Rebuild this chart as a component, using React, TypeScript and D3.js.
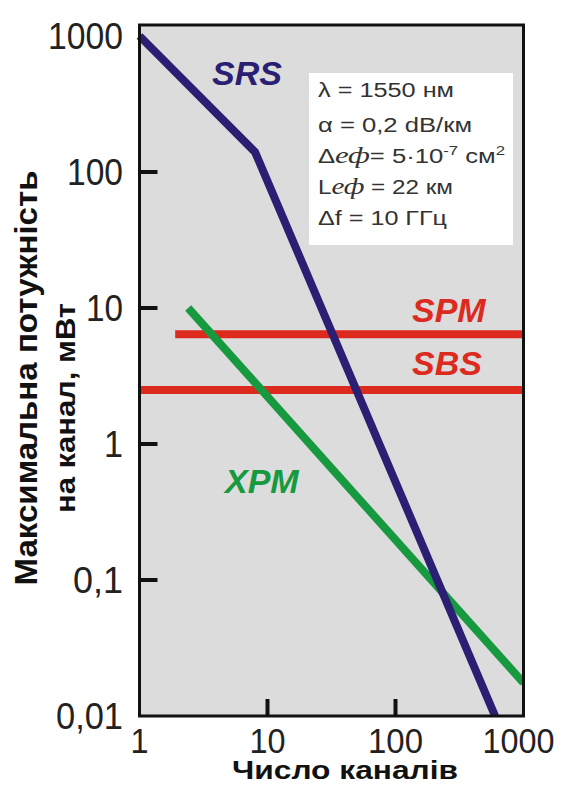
// @ts-nocheck
import { scaleLog, line } from "d3";
import React from "react";

// series (x = number of channels, y = max power per channel, mW)
const srs = [
  [1, 1000],
  [8, 140],
  [600, 0.01],
];
const xpm = [
  [2.4, 10],
  [1000, 0.0175],
];
const spm = [
  [1.9, 6.4],
  [1000, 6.4],
];
const sbs = [
  [1, 2.5],
  [1000, 2.5],
];

const xTicks = [1, 10, 100, 1000];
const xTickLabels = ["1", "10", "100", "1000"];
const yTicks = [1000, 100, 10, 1, 0.1, 0.01];
const yTickLabels = ["1000", "100", "10", "1", "0,1", "0,01"];

const legendLines = ["λ = 1550 нм", "α = 0,2 dB/км", "Δеф", "Lеф = 22 км", "Δf = 10 ГГц"];

const NAVY = "#2a1f73";
const GREEN = "#16993f";
const RED = "#dc2a1f";
const FONT = "'Liberation Sans', Arial, sans-serif";

const App = () => {
  const x = scaleLog().domain([1, 1000]).range([139.5, 523.5]);
  const y = scaleLog().domain([0.01, 1000]).range([716, 36]);
  const path = line()
    .x((d) => x(d[0]))
    .y((d) => y(d[1]));

  const left = x(1);
  const right = x(1000);
  const top = 25;
  const bottom = y(0.01);

  return (
    <svg width={562} height={785} style={{ position: "absolute", left: 0, top: 0 }}>
      <rect x={0} y={0} width={562} height={785} fill="white" />
      <rect x={left} y={top} width={right - left} height={bottom - top} fill="#dcdcdc" />

      {/* ticks */}
      {yTicks.slice(1, 5).map((t) => (
        <line key={"yt" + t} x1={left} x2={left + 18} y1={y(t)} y2={y(t)} stroke="#111" strokeWidth={4} />
      ))}
      {xTicks.slice(1, 3).map((t) => (
        <line key={"xt" + t} x1={x(t)} x2={x(t)} y1={bottom} y2={bottom - 17} stroke="#111" strokeWidth={4} />
      ))}

      <clipPath id="plot">
        <rect x={left - 4} y={top} width={right - left + 4} height={bottom - top} />
      </clipPath>
      <g clipPath="url(#plot)" fill="none" strokeWidth={8}>
        <path d={path(spm)} stroke={RED} />
        <path d={path(sbs)} stroke={RED} />
        <path d={path(xpm)} stroke={GREEN} />
        <path d={path(srs)} stroke={NAVY} strokeLinejoin="round" />
      </g>

      <rect x={left} y={top} width={right - left} height={bottom - top} fill="none" stroke="#111" strokeWidth={3} />

      {/* tick labels */}
      {yTicks.map((t, i) => (
        <text
          key={"yl" + t}
          x={123}
          y={y(t) + 13}
          textAnchor="end"
          fontFamily={FONT}
          fontSize={37}
          fill="#222"
          textLength={[75, 56, 37, 19, 50, 67][i]}
          lengthAdjust="spacingAndGlyphs"
        >
          {yTickLabels[i]}
        </text>
      ))}
      {xTicks.map((t, i) => (
        <text
          key={"xl" + t}
          x={x(t) + (i === 3 ? -5 : 0)}
          y={753}
          textAnchor="middle"
          fontFamily={FONT}
          fontSize={35}
          fill="#222"
          textLength={[18, 36, 55, 72][i]}
          lengthAdjust="spacingAndGlyphs"
        >
          {xTickLabels[i]}
        </text>
      ))}

      {/* axis titles */}
      <text x={345} y={779} textAnchor="middle" fontFamily={FONT} fontWeight="bold" fontSize={25} fill="#111" textLength={226} lengthAdjust="spacingAndGlyphs">
        Число каналів
      </text>
      <text
        transform="translate(37,378) rotate(-90)"
        textAnchor="middle"
        fontFamily={FONT}
        fontWeight="bold"
        fontSize={32}
        fill="#111"
        textLength={415}
        lengthAdjust="spacingAndGlyphs"
      >
        Максимальна потужність
      </text>
      <text
        transform="translate(75,408) rotate(-90)"
        textAnchor="middle"
        fontFamily={FONT}
        fontWeight="bold"
        fontSize={28}
        fill="#111"
        textLength={210}
        lengthAdjust="spacingAndGlyphs"
      >
        на канал, мВт
      </text>

      {/* curve labels */}
      <g fontFamily={FONT} fontStyle="italic" fontWeight="bold" fontSize={34}>
        <text x={212} y={85} fill={NAVY}>SRS</text>
        <text x={412} y={322} fill={RED}>SPM</text>
        <text x={412} y={375} fill={RED}>SBS</text>
        <text x={225} y={493} fill={GREEN}>XPM</text>
      </g>

      {/* parameters box */}
      <rect x={309} y={73} width={204} height={172} fill="white" />
      <g fontFamily={FONT} fontSize={20} fill="#333">
        <text x={318} y={97} textLength={136} lengthAdjust="spacingAndGlyphs">{legendLines[0]}</text>
        <text x={318} y={132} textLength={154} lengthAdjust="spacingAndGlyphs">{legendLines[1]}</text>
        <text x={318} y={163} textLength={187} lengthAdjust="spacingAndGlyphs">
          Δ<tspan fontFamily="'Liberation Serif', serif" fontStyle="italic" fontSize={24}>еф</tspan>= 5·10
          <tspan dy={-8} fontSize={13}>-7</tspan>
          <tspan dy={8}> см</tspan>
          <tspan dy={-8} fontSize={13}>2</tspan>
        </text>
        <text x={318} y={194} textLength={135} lengthAdjust="spacingAndGlyphs">
          L<tspan fontFamily="'Liberation Serif', serif" fontStyle="italic" fontSize={24}>еф</tspan> = 22 км
        </text>
        <text x={318} y={225} textLength={129} lengthAdjust="spacingAndGlyphs">{legendLines[4]}</text>
      </g>
    </svg>
  );
};

export default App;
